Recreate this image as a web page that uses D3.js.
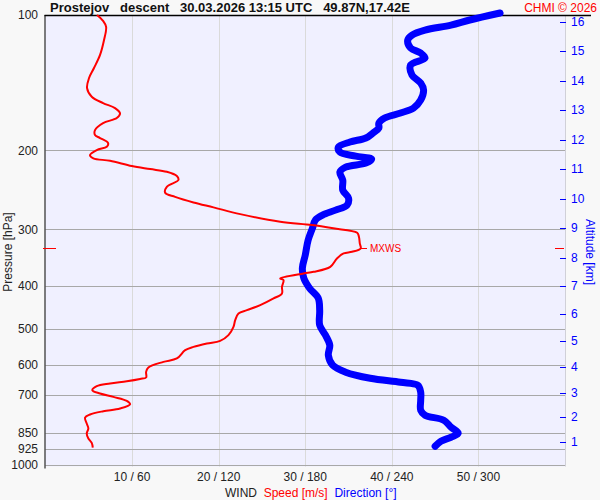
<!DOCTYPE html>
<html>
<head>
<meta charset="utf-8">
<script src="https://cdn.jsdelivr.net/npm/d3@7"></script>
<style>
  body { margin: 0; background: #f8f8f8; }
  text { font-family: "Liberation Sans", Arial, sans-serif; }
</style>
</head>
<body>
<div id="chart"></div>
<script>
// sounding data
var pressureTicks = [100, 200, 300, 400, 500, 600, 700, 850, 925, 1000];
var speedTicks = [10, 20, 30, 40, 50];
var altitudeKm = [16, 15, 14, 13, 12, 11, 10, 9, 8, 7, 6, 5, 4, 3, 2, 1];
var altitudeP = [103.5, 120.4, 140.1, 162.9, 189.5, 219.9, 256.2, 297.6, 346.5, 400.6, 463, 531, 607, 694, 785, 891];

var speedP = [100, 103.1, 106.3, 113.7, 122.7, 131.2, 138.1, 145.4, 152.0, 157.0, 161.1, 165.5, 169.5, 174.0, 180.3, 184.9,
  187.8, 192.7, 196.4, 199.7, 204.9, 208.4, 211.0, 216.8, 220.2, 223.3, 228.2, 232.9, 241.1, 248.6, 253.8, 261.2, 267.9,
  277.3, 288.4, 293.3, 298.3, 305.1, 311.4, 322.2, 330.6, 336.4, 339.2, 348.0, 363.3, 372.7, 375.8, 385.5, 388.9, 402.4,
  416.3, 427.1, 442.1, 453.6, 461.3, 477.4, 494.1, 515.6, 530.9, 538.0, 547.5, 556.8, 580.9, 591.1, 608.3, 622.2, 640.4,
  645.0, 652.7, 660.4, 669.6, 683.5, 695.0, 707.3, 721.9, 734.3, 750.7, 761.2, 774.1, 786.2, 810.7, 831.7, 853.3, 875.4,
  895.4, 916.8];
var speed = [5.95, 6.65, 7.0, 6.76, 6.3, 5.6, 5.03, 4.8, 5.34, 6.65, 8.03, 8.61, 8.23, 6.65, 5.72, 5.72,
  6.3, 7.23, 7.08, 5.92, 5.14, 5.53, 7.46, 9.97, 12.08, 14.01, 15.17, 15.35, 14.01, 13.82, 14.97, 17.09, 19.4,
  22.49, 27.11, 30.77, 33.24, 36.0, 36.2, 36.3, 36.4, 35.4, 34.43, 33.66, 32.89, 30.96, 29.8, 27.11, 27.49, 27.31,
  27.31, 26.34, 24.8, 23.26, 22.29, 21.91, 21.71, 21.13, 20.17, 18.64, 17.09, 16.13, 15.17, 13.62, 11.88, 11.62, 11.62,
  10.92, 9.39, 7.46, 5.92, 5.41, 6.3, 7.84, 9.39, 9.77, 8.61, 6.68, 5.14, 4.57, 4.76, 4.95, 4.76, 4.95,
  5.34, 5.46];

var dirP = [99, 102.6, 105.3, 108.0, 110.8, 113.7, 118.4, 121.5, 124.7, 129.2, 136.0, 141.7, 146.9, 154.6, 161.1, 165.2,
  169.5, 174.0, 178.4, 183.0, 187.8, 191.7, 196.7, 201.8, 206.0, 209.2, 213.5, 218.0, 223.6, 232.9, 245.2, 255.5, 264.8,
  271.7, 278.7, 285.9, 297.9, 316.8, 342.2, 365.7, 384.9, 405.3, 426.5, 453.6, 489.8, 515.6, 542.7, 571.2, 601.2, 623.2,
  643.0, 656.3, 666.4, 690.6, 719.5, 757.1, 776.8, 796.9, 826.0, 852.0, 869.6, 887.6, 910.5];
var direction = [315, 294, 281, 263, 254, 251, 253, 260, 263, 253, 254, 260, 262, 260, 255, 246,
  235, 231, 231, 227, 222, 211, 203, 204, 215, 226, 222, 208, 204, 206, 206, 210, 209,
  201, 192, 187, 185, 182, 180, 178, 179, 183, 189, 190, 190, 194, 197, 196, 199, 208,
  225, 246, 258, 260, 260, 260, 263, 276, 281, 286, 281, 274, 270];

var svgWidth = 600;
var svgHeight = 500;
var plot = { left: 45.5, right: 565, top: 15, bottom: 464.5 };

var svg = d3.select("#chart")
    .append("svg")
    .attr("width", svgWidth)
    .attr("height", svgHeight);

svg.append("rect")
    .attr("width", svgWidth)
    .attr("height", svgHeight)
    .attr("fill", "#f8f8f8");

var xScale = d3.scaleLinear().domain([0, 60]).range([plot.left, plot.right]);
var dirScale = d3.scaleLinear().domain([0, 360]).range([plot.left, plot.right]);
var yScale = d3.scaleLog().domain([100, 1000]).range([plot.top, plot.bottom]);

svg.append("rect")
    .attr("x", plot.left)
    .attr("y", plot.top)
    .attr("width", plot.right - plot.left)
    .attr("height", plot.bottom - plot.top + 2)
    .attr("fill", "#f0f0ff");

// vertical grid
svg.append("g").selectAll("line")
    .data(speedTicks)
    .enter()
    .append("line")
    .attr("x1", d => Math.round(xScale(d)) + 0.5)
    .attr("x2", d => Math.round(xScale(d)) + 0.5)
    .attr("y1", plot.top)
    .attr("y2", plot.bottom + 2)
    .attr("stroke", "#dadada");

svg.append("line")
    .attr("x1", plot.right + 0.5).attr("x2", plot.right + 0.5)
    .attr("y1", plot.top).attr("y2", plot.bottom + 2)
    .attr("stroke", "#d0d0d8");

// horizontal grid
svg.append("g").selectAll("line")
    .data(pressureTicks.slice(1))
    .enter()
    .append("line")
    .attr("x1", plot.left)
    .attr("x2", plot.right)
    .attr("y1", d => Math.round(yScale(d)) + 0.5)
    .attr("y2", d => Math.round(yScale(d)) + 0.5)
    .attr("stroke", "#a8a8a8");

// pressure labels
svg.append("g").selectAll("text")
    .data(pressureTicks)
    .enter()
    .append("text")
    .attr("x", 38)
    .attr("y", d => yScale(d))
    .attr("dy", "0.35em")
    .attr("text-anchor", "end")
    .attr("font-size", 12)
    .attr("fill", "#222")
    .text(d => d);

svg.append("text")
    .text("Pressure [hPa]")
    .attr("transform", "translate(12," + 252 + ") rotate(-90)")
    .attr("text-anchor", "middle")
    .attr("font-size", 12)
    .attr("fill", "#222");

// bottom labels
svg.append("g").selectAll("text")
    .data(speedTicks)
    .enter()
    .append("text")
    .attr("x", d => xScale(d))
    .attr("y", 481)
    .attr("text-anchor", "middle")
    .attr("font-size", 12)
    .attr("fill", "#222")
    .text(d => d + " / " + d * 6);

var legend = svg.append("text")
    .attr("x", 225)
    .attr("y", 497)
    .attr("font-size", 12)
    .attr("xml:space", "preserve");
legend.append("tspan").attr("fill", "#222").text("WIND  ");
legend.append("tspan").attr("fill", "#ff0000").text("Speed [m/s]  ");
legend.append("tspan").attr("fill", "#0000ff").text("Direction [°]");

// altitude axis
var altData = altitudeKm.map((k, i) => ({ km: k, p: altitudeP[i] }));
svg.append("g").selectAll("line")
    .data(altData)
    .enter()
    .append("line")
    .attr("x1", 560)
    .attr("x2", 566)
    .attr("y1", d => Math.round(yScale(d.p)) + 0.5)
    .attr("y2", d => Math.round(yScale(d.p)) + 0.5)
    .attr("stroke", "#0000ff");

svg.append("g").selectAll("text")
    .data(altData)
    .enter()
    .append("text")
    .attr("x", 571)
    .attr("y", d => yScale(d.p))
    .attr("dy", "0.35em")
    .attr("font-size", 12)
    .attr("fill", "#0000ff")
    .text(d => d.km);

svg.append("text")
    .text("Altitude [km]")
    .attr("transform", "translate(586," + 252 + ") rotate(90)")
    .attr("text-anchor", "middle")
    .attr("font-size", 12)
    .attr("fill", "#0000ff");

// axes frame
svg.append("line")
    .attr("x1", plot.left - 0.5).attr("x2", plot.left - 0.5)
    .attr("y1", plot.top).attr("y2", plot.bottom + 4)
    .attr("stroke", "#000");
svg.append("line")
    .attr("x1", plot.left - 1).attr("x2", 591)
    .attr("y1", plot.top + 0.5).attr("y2", plot.top + 0.5)
    .attr("stroke", "#000")
    .attr("stroke-width", 1.5);

// title
svg.append("text")
    .attr("x", 50)
    .attr("y", 12)
    .attr("font-size", 13)
    .attr("font-weight", "bold")
    .attr("fill", "#111")
    .attr("xml:space", "preserve")
    .text("Prostejov   descent   30.03.2026 13:15 UTC   49.87N,17.42E");

svg.append("text")
    .attr("x", 597)
    .attr("y", 12)
    .attr("text-anchor", "end")
    .attr("font-size", 12)
    .attr("fill", "#ff0000")
    .text("CHMI © 2026");

// profiles
var speedData = speedP.map((p, i) => ({ p: p, v: speed[i] }));
var dirData = dirP.map((p, i) => ({ p: p, v: direction[i] }));

var speedLine = d3.line()
    .x(d => xScale(d.v))
    .y(d => yScale(d.p))
    .curve(d3.curveCatmullRom);

var dirLine = d3.line()
    .x(d => dirScale(d.v))
    .y(d => yScale(d.p))
    .curve(d3.curveCatmullRom);

svg.append("path")
    .datum(dirData)
    .attr("d", dirLine)
    .attr("fill", "none")
    .attr("stroke", "#0000ff")
    .attr("stroke-width", 7)
    .attr("stroke-linejoin", "round")
    .attr("stroke-linecap", "round");

svg.append("path")
    .datum(speedData)
    .attr("d", speedLine)
    .attr("fill", "none")
    .attr("stroke", "#ff0000")
    .attr("stroke-width", 2);

// max wind marker
var maxIdx = d3.maxIndex(speed);
var yMax = Math.round(yScale(speedP[maxIdx])) + 0.5;
svg.append("line")
    .attr("x1", 43).attr("x2", 56)
    .attr("y1", yMax).attr("y2", yMax)
    .attr("stroke", "#ff0000");
svg.append("line")
    .attr("x1", 555).attr("x2", 564)
    .attr("y1", yMax).attr("y2", yMax)
    .attr("stroke", "#ff0000");
svg.append("line")
    .attr("x1", xScale(speed[maxIdx])).attr("x2", 367)
    .attr("y1", yMax).attr("y2", yMax)
    .attr("stroke", "#ff0000");
svg.append("text")
    .attr("x", 370)
    .attr("y", yMax)
    .attr("dy", "0.35em")
    .attr("font-size", 10)
    .attr("fill", "#ff0000")
    .text("MXWS");
</script>
</body>
</html>
